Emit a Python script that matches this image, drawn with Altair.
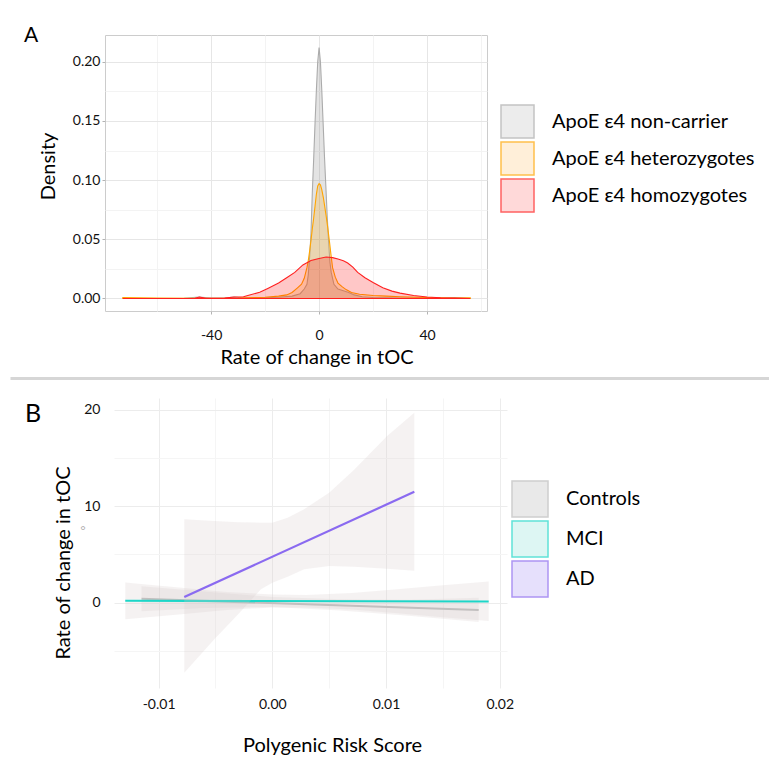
import altair as alt
import pandas as pd

# ---------------- Panel A : density of rate of change in tOC ----------------
panel_labels = ["A", "B"]
groups_a = ["ApoE ε4 non-carrier", "ApoE ε4 heterozygotes", "ApoE ε4 homozygotes"]
fill_a = ["#7f7f7f", "#ffa500", "#ff0000"]
stroke_a = ["#ababab", "#ffa500", "#ff2020"]
key_fill_a = ["#e4e4e4", "#ffe9c9", "#ffc9c9"]

noncarrier_x = [-72.7, -50, -44.5, -40, -35, -31.5, -28, -20, -15, -10, -7, -5.5, -4.5, -4, -3.5, -3,
                -2.5, -2, -1.5, -1, -0.5, 0, 0.5, 1, 1.5, 2, 2.5, 3, 3.5, 4, 4.5, 5.5, 7, 9, 11, 13,
                16, 20, 30, 45, 50, 56]
noncarrier_d = [0.0, 0.0002, 0.0012, 0.0003, 0.0003, 0.0012, 0.0004, 0.0006, 0.001, 0.002, 0.004,
                0.008, 0.012, 0.02, 0.035, 0.055, 0.09, 0.118, 0.148, 0.176, 0.2, 0.212, 0.2, 0.176,
                0.148, 0.12, 0.095, 0.07, 0.049, 0.031, 0.022, 0.012, 0.008, 0.0065, 0.005, 0.003,
                0.0015, 0.0008, 0.0004, 0.0003, 0.0008, 0.0]

het_x = [-72.7, -60, -45, -30, -20, -15, -12, -10, -8, -6.5, -5.5, -4.5, -4, -3.5, -3, -2.5, -2,
         -1.5, -1, -0.5, 0, 0.5, 1, 1.6, 2, 2.6, 3.2, 3.8, 4.4, 5, 6, 7, 8.5, 10, 12, 15, 20, 25,
         30, 40, 50, 56]
het_d = [0.0008, 0.0003, 0.0002, 0.0003, 0.001, 0.002, 0.003, 0.005, 0.009, 0.012, 0.017, 0.026,
         0.032, 0.04, 0.049, 0.059, 0.068, 0.078, 0.088, 0.095, 0.097, 0.096, 0.092, 0.085, 0.079,
         0.07, 0.06, 0.049, 0.037, 0.026, 0.018, 0.013, 0.01, 0.0075, 0.005, 0.0035, 0.0025,
         0.002, 0.0015, 0.0008, 0.0004, 0.0006]

hom_x = [-72.7, -55, -46, -44.3, -42, -35, -31.5, -28, -26.4, -22, -19, -15, -12, -9, -6, -3,
         0, 2.6, 5, 7, 9, 10.6, 12.5, 14.3, 17, 20, 23.6, 27, 30, 35, 40, 45, 50, 56]
hom_d = [0.0, 0.0, 0.0002, 0.0012, 0.0002, 0.0003, 0.0012, 0.0015, 0.0025, 0.0052, 0.0085, 0.013,
         0.0175, 0.022, 0.0283, 0.032, 0.0338, 0.035, 0.0345, 0.0333, 0.0318, 0.03, 0.0265, 0.022,
         0.0175, 0.0135, 0.009, 0.0062, 0.0045, 0.0025, 0.0012, 0.0006, 0.0003, 0.0]

df_a = pd.concat([
    pd.DataFrame({"x": noncarrier_x, "density": noncarrier_d, "group": groups_a[0]}),
    pd.DataFrame({"x": het_x, "density": het_d, "group": groups_a[1]}),
    pd.DataFrame({"x": hom_x, "density": hom_d, "group": groups_a[2]}),
])

FONT = "Lato"

legend_a = alt.Legend(orient="none", legendX=395, legendY=69, title=None, symbolType="square",
                      symbolSize=1089, symbolStrokeWidth=1.5, labelFontSize=20, labelFont=FONT,
                      labelColor="#000000", labelOffset=17, rowPadding=-3.3, padding=0, labelLimit=400)

ax_a_x = alt.Axis(values=[-60, -40, -20, 0, 20, 40, 60],
                  labelExpr="datum.value % 40 == 0 ? (datum.value < 0 ? '-' : '') + format(abs(datum.value), 'd') : ''",
                  title="Rate of change in tOC", grid=True,
                  gridColor={"condition": {"test": "datum.value % 40 == 0", "value": "#e6e6e6"}, "value": "#f3f3f3"},
                  tickOpacity={"condition": {"test": "datum.value % 40 == 0", "value": 1}, "value": 0},
                  tickColor="#b3b3b3", tickSize=3, labelPadding=14, labelFontSize=14,
                  titleX=211.5, titleY=52, titleBaseline="alphabetic")
ax_a_y = alt.Axis(values=[0, 0.025, 0.05, 0.075, 0.1, 0.125, 0.15, 0.175, 0.2],
                  labelExpr="abs(datum.value*20 - round(datum.value*20)) < 1e-6 ? format(datum.value, '.2f') : ''",
                  title="Density", grid=True,
                  gridColor={"condition": {"test": "abs(datum.value*20 - round(datum.value*20)) < 1e-6", "value": "#e6e6e6"}, "value": "#f3f3f3"},
                  tickOpacity={"condition": {"test": "abs(datum.value*20 - round(datum.value*20)) < 1e-6", "value": 1}, "value": 0},
                  tickColor="#b3b3b3", tickSize=3, labelPadding=2, labelFontSize=14,
                  titleX=-51, titleY=131, titleBaseline="alphabetic")

sx_a = alt.Scale(domain=[-79.3, 62.2], nice=False, zero=False)
sy_a = alt.Scale(domain=[-0.0106, 0.2226], nice=False)
stroke_scale_a = alt.Scale(domain=groups_a, range=stroke_a)
keyfill_scale_a = alt.Scale(domain=groups_a, range=key_fill_a)

legend_layer_a = (
    alt.Chart(df_a).transform_filter("false")
    .mark_square(filled=True, strokeWidth=1.5)
    .encode(x=alt.X("x:Q", scale=sx_a, axis=ax_a_x),
            y=alt.Y("density:Q", scale=sy_a, axis=ax_a_y),
            fill=alt.Fill("group:N", scale=keyfill_scale_a, legend=legend_a),
            stroke=alt.Stroke("group:N", scale=stroke_scale_a, legend=legend_a))
)

area_layers = []
for g, f in zip(groups_a, fill_a):
    area_layers.append(
        alt.Chart(df_a).transform_filter(alt.datum.group == g)
        .mark_area(fill=f, fillOpacity=0.22, strokeWidth=1.1)
        .encode(
            x=alt.X("x:Q", scale=sx_a, axis=ax_a_x),
            y=alt.Y("density:Q", scale=sy_a, axis=ax_a_y),
            stroke=alt.Stroke("group:N", scale=stroke_scale_a, legend=legend_a),
        )
    )

one = pd.DataFrame({"label": [panel_labels[0]]})
label_a = alt.Chart(one).mark_text(align="left", baseline="alphabetic", fontSize=21, font=FONT,
                                   color="#000000").encode(text="label:N", x=alt.value(-81), y=alt.value(7))
sep = alt.Chart(one).mark_rule(color="#d6d6d6", strokeWidth=3).encode(
    x=alt.value(-94.5), x2=alt.value(664), y=alt.value(343.5))
top_anchor = alt.Chart(one).mark_rule(color="#ffffff", strokeWidth=1).encode(
    x=alt.value(-95.5), x2=alt.value(-90), y=alt.value(-25.5))

chart_a = alt.layer(legend_layer_a, *area_layers, label_a, sep, top_anchor).properties(
    width=382, height=276, view=alt.ViewBackground(stroke="#cccccc", strokeWidth=1))

# ---------------- Panel B : PRS vs rate of change ----------------
groups_b = ["Controls", "MCI", "AD"]
line_colors_b = ["#bbbbbb", "#1dd6c8", "#8a6af0"]
key_fill_b = ["#e0e0e0", "#d0f3ef", "#dcd3fb"]

controls_prs = [-0.0115, 0.01815]
controls_fit = [0.41, -0.76]
mci_prs = [-0.01293, 0.01903]
mci_fit = [0.2, 0.12]
ad_prs = [-0.00774, 0.01249]
ad_fit = [0.59, 11.5]

controls_band_prs = [-0.0115, -0.006, 0.0, 0.006, 0.012, 0.01815]
controls_band_lo = [-0.9, -0.55, -0.45, -0.8, -1.35, -2.0]
controls_band_hi = [1.7, 1.15, 0.6, 0.35, 0.3, 0.5]
mci_band_prs = [-0.01293, -0.008, -0.004, 0.0, 0.003, 0.007, 0.011, 0.015, 0.01903]
mci_band_lo = [-1.72, -1.2, -0.75, -0.5, -0.5, -0.7, -1.1, -1.5, -1.9]
mci_band_hi = [2.1, 1.55, 1.1, 0.85, 0.8, 1.0, 1.4, 1.8, 2.2]
ad_band_prs = [-0.00774, -0.0051, -0.003, -0.001, 0.0, 0.00135, 0.0028, 0.005, 0.0072, 0.0101, 0.01249]
ad_band_lo = [-7.26, -3.8, -1.2, 1.4, 2.07, 2.7, 3.46, 3.8, 3.73, 3.53, 3.3]
ad_band_hi = [8.65, 8.47, 8.35, 8.3, 8.3, 8.8, 9.7, 11.4, 13.8, 17.3, 19.7]

df_lines = pd.concat([
    pd.DataFrame({"prs": controls_prs, "fit": controls_fit, "group": groups_b[0]}),
    pd.DataFrame({"prs": mci_prs, "fit": mci_fit, "group": groups_b[1]}),
    pd.DataFrame({"prs": ad_prs, "fit": ad_fit, "group": groups_b[2]}),
])
df_bands = pd.concat([
    pd.DataFrame({"prs": controls_band_prs, "lo": controls_band_lo, "hi": controls_band_hi, "group": groups_b[0]}),
    pd.DataFrame({"prs": mci_band_prs, "lo": mci_band_lo, "hi": mci_band_hi, "group": groups_b[1]}),
    pd.DataFrame({"prs": ad_band_prs, "lo": ad_band_lo, "hi": ad_band_hi, "group": groups_b[2]}),
])

# panel B plot origin shares the column origin with panel A; the x range starts 9px in
SHIFT = 9
sx_b = alt.Scale(domain=[-0.01392, 0.02064], nice=False, zero=False, range=[SHIFT, 393 + SHIFT])
sy_b = alt.Scale(domain=[-8.85, 21.23], nice=False, zero=False)
stroke_scale_b = alt.Scale(domain=groups_b, range=line_colors_b)
fill_scale_b = alt.Scale(domain=groups_b, range=key_fill_b)

major_x_b = "abs(datum.value*100 - round(datum.value*100)) < 1e-6"
ax_b_x = alt.Axis(values=[-0.01, -0.005, 0, 0.005, 0.01, 0.015, 0.02],
                  labelExpr=f"{major_x_b} ? (datum.value < -1e-9 ? '-' : '') + format(abs(datum.value), '.2f') : ''",
                  title="Polygenic Risk Score", grid=True,
                  gridColor={"condition": {"test": major_x_b, "value": "#ececec"}, "value": "#f5f5f5"},
                  ticks=False, tickSize=0, labelPadding=9, labelFontSize=14,
                  titleX=218 + SHIFT, titleY=63, titleBaseline="alphabetic")
ax_b_y = alt.Axis(values=[-5, 0, 5, 10, 15, 20],
                  labelExpr="datum.value % 10 == 0 ? format(datum.value, 'd') : ''",
                  title="Rate of change in tOC", grid=True,
                  gridColor={"condition": {"test": "datum.value % 10 == 0", "value": "#ececec"}, "value": "#f5f5f5"},
                  ticks=False, tickSize=0, labelPadding=14 - SHIFT, labelFontSize=14,
                  titleX=-45 + SHIFT, titleY=164.5, titleBaseline="alphabetic")

legend_b = alt.Legend(orient="none", legendX=397 + SHIFT, legendY=82, title=None, symbolType="square",
                      symbolSize=1296, symbolStrokeWidth=1.5, labelFontSize=20, labelFont=FONT,
                      labelColor="#000000", labelOffset=17, rowPadding=-2.6, padding=0, labelLimit=400)

b_layers = []
for g in groups_b:
    b_layers.append(
        alt.Chart(df_bands).transform_filter(alt.datum.group == g)
        .mark_area(fill="#d7cdcd", opacity=0.25)
        .encode(x=alt.X("prs:Q", scale=sx_b, axis=ax_b_x),
                y=alt.Y("hi:Q", scale=sy_b, axis=ax_b_y),
                y2="lo:Q")
    )
    b_layers.append(
        alt.Chart(df_lines).transform_filter(alt.datum.group == g)
        .mark_line(strokeWidth=2.2)
        .encode(x=alt.X("prs:Q", scale=sx_b, axis=ax_b_x),
                y=alt.Y("fit:Q", scale=sy_b, axis=ax_b_y),
                stroke=alt.Stroke("group:N", scale=stroke_scale_b, legend=legend_b))
    )

legend_layer_b = (
    alt.Chart(df_lines).transform_filter("false")
    .mark_square(filled=True, strokeWidth=1.5)
    .encode(x=alt.X("prs:Q", scale=sx_b, axis=ax_b_x),
            y=alt.Y("fit:Q", scale=sy_b, axis=ax_b_y),
            fill=alt.Fill("group:N", scale=fill_scale_b, legend=legend_b),
            stroke=alt.Stroke("group:N", scale=stroke_scale_b, legend=legend_b))
)

one_b = pd.DataFrame({"label": [panel_labels[1]]})
label_b = alt.Chart(one_b).mark_text(align="left", baseline="alphabetic", fontSize=25, font=FONT,
                                     color="#000000").encode(text="label:N", x=alt.value(-89 + SHIFT), y=alt.value(24))
stray_b = alt.Chart(pd.DataFrame({"label": ["o"]})).mark_text(
    align="center", baseline="middle", fontSize=7, font=FONT, color="#999999", angle=270
).encode(text="label:N", x=alt.value(-22), y=alt.value(130))
left_anchor_b = alt.Chart(one_b).mark_rule(color="#ffffff", strokeWidth=1).encode(
    x=alt.value(-95.5), x2=alt.value(-91), y=alt.value(100))

chart_b = alt.layer(legend_layer_b, *b_layers, label_b, stray_b, left_anchor_b).properties(
    width=393 + SHIFT, height=290, view=alt.ViewBackground(stroke="transparent"))

chart = (
    alt.concat(chart_a, chart_b, columns=1, spacing=16, align="none")
    .resolve_scale(fill="independent", stroke="independent",
                   x="independent", y="independent")
    .resolve_legend(fill="independent", stroke="independent")
    .properties(padding={"left": 0, "top": 0, "right": 0, "bottom": 0})
    .configure_axis(labelFont=FONT, titleFont=FONT, titleFontSize=20, titleFontWeight="normal",
                    labelColor="#111111", titleColor="#000000", domain=False)
    .configure_legend(labelFont=FONT)
    .configure_view(stroke="transparent")
)

chart.save("out.html", embed_options={"renderer": "svg", "actions": False})
